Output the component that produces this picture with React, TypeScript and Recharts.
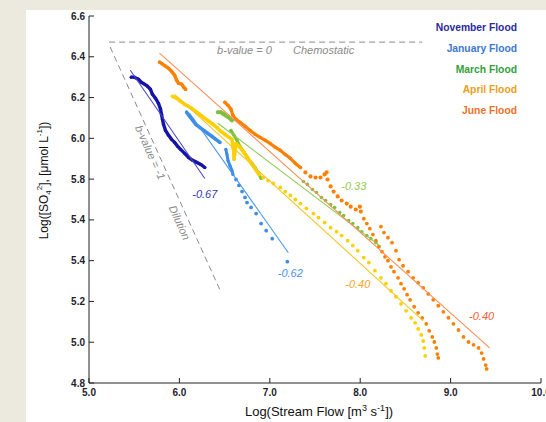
import React from 'react';
import { ScatterChart, Scatter, XAxis, YAxis, ReferenceLine, Legend } from 'recharts';

// ---------- categories / labels ----------
const floodNames = ['November Flood', 'January Flood', 'March Flood', 'April Flood', 'June Flood'];
const xTicks = [5, 6, 7, 8, 9, 10];
const yTicks = [4.8, 5.0, 5.2, 5.4, 5.6, 5.8, 6.0, 6.2, 6.4, 6.6];
const yTickLabels = ['4.8', '5.0', '5.2', '5.4', '5.4', '5.8', '6.0', '6.2', '6.4', '6.6'];

// ---------- November ----------
const novTraceFlow = [5.468, 5.501, 5.546, 5.579, 5.613, 5.646, 5.679, 5.702, 5.735, 5.768, 5.791, 5.802, 5.813, 5.824, 5.846, 5.88, 5.913, 5.947, 5.98, 6.013, 6.058, 6.102, 6.147, 6.192, 6.236, 6.281];
const novTraceSO4 = [6.3, 6.3, 6.29, 6.275, 6.266, 6.256, 6.241, 6.216, 6.197, 6.172, 6.143, 6.118, 6.093, 6.069, 6.039, 6.015, 5.995, 5.98, 5.961, 5.946, 5.926, 5.906, 5.892, 5.882, 5.872, 5.857];
const novFitFlow = [5.457, 6.281];
const novFitSO4 = [6.334, 5.803];

// ---------- January ----------
const janTrace1Flow = [6.08, 6.114, 6.147, 6.18, 6.225, 6.269, 6.314, 6.359, 6.403, 6.448];
const janTrace1SO4 = [6.128, 6.108, 6.089, 6.069, 6.054, 6.039, 6.024, 6.01, 5.995, 5.98];
const janTrace2Flow = [6.514, 6.526, 6.537, 6.559, 6.581, 6.592];
const janTrace2SO4 = [5.946, 5.921, 5.892, 5.867, 5.843, 5.823];
const janDotsFlow = [6.626, 6.659, 6.693, 6.726, 6.748, 6.793, 6.849, 6.904, 6.96, 7.027, 7.194];
const janDotsSO4 = [5.798, 5.769, 5.739, 5.71, 5.685, 5.661, 5.631, 5.582, 5.547, 5.508, 5.395];
const janFitFlow = [6.114, 7.205];
const janFitSO4 = [6.123, 5.439];

// ---------- March ----------
const marTrace1Flow = [6.425, 6.459, 6.492, 6.526, 6.559, 6.581];
const marTrace1SO4 = [6.128, 6.128, 6.118, 6.108, 6.098, 6.088];
const marTrace2Flow = [6.57, 6.604, 6.637, 6.67, 6.715, 6.759, 6.804, 6.837, 6.871, 6.904];
const marTrace2SO4 = [6.039, 6.015, 5.99, 5.961, 5.931, 5.902, 5.877, 5.857, 5.833, 5.803];
const marDotsFlow = [7.372, 7.416, 7.472, 7.517, 7.572, 7.617, 7.673, 7.717, 7.773, 7.817, 7.873, 7.918, 7.973, 8.018, 8.073, 8.118, 8.174, 8.207];
const marDotsSO4 = [5.788, 5.774, 5.749, 5.734, 5.71, 5.695, 5.675, 5.661, 5.636, 5.621, 5.597, 5.582, 5.562, 5.542, 5.523, 5.508, 5.488, 5.469];
const marFitFlow = [6.425, 8.229];
const marFitSO4 = [6.074, 5.469];

// ---------- April ----------
const aprTraceFlow = [5.924, 5.969, 6.013, 6.058, 6.102, 6.147, 6.192, 6.236, 6.281, 6.325, 6.37, 6.414, 6.459, 6.503, 6.548, 6.581, 6.592, 6.604, 6.604, 6.626, 6.67, 6.715, 6.759, 6.804, 6.849, 6.882];
const aprTraceSO4 = [6.206, 6.197, 6.182, 6.167, 6.157, 6.143, 6.128, 6.113, 6.098, 6.084, 6.069, 6.054, 6.034, 6.02, 6.005, 5.995, 5.961, 5.926, 5.897, 5.975, 5.956, 5.931, 5.902, 5.872, 5.843, 5.823];
const aprDotsFlow = [6.927, 6.982, 7.038, 7.116, 7.171, 7.227, 7.283, 7.339, 7.405, 7.483, 7.539, 7.606, 7.673, 7.739, 7.795, 7.862, 7.918, 7.973, 8.04, 8.096, 8.163, 8.229, 8.285, 8.341, 8.396, 8.452, 8.508, 8.563, 8.608, 8.641, 8.675, 8.697, 8.708, 8.719];
const aprDotsSO4 = [5.808, 5.793, 5.779, 5.759, 5.739, 5.72, 5.7, 5.68, 5.656, 5.631, 5.611, 5.587, 5.562, 5.542, 5.523, 5.498, 5.474, 5.449, 5.415, 5.39, 5.351, 5.316, 5.287, 5.252, 5.223, 5.188, 5.154, 5.119, 5.095, 5.065, 5.036, 5.006, 4.972, 4.933];
const aprFitFlow = [5.947, 8.697];
const aprFitSO4 = [6.216, 5.105];

// ---------- June ----------
const junTrace1Flow = [5.78, 5.813, 5.846, 5.88, 5.913, 5.947, 5.969, 5.991, 6.025, 6.047, 6.069];
const junTrace1SO4 = [6.374, 6.364, 6.354, 6.344, 6.329, 6.31, 6.285, 6.27, 6.266, 6.251, 6.241];
const junTrace2Flow = [6.503, 6.537, 6.57, 6.592, 6.626, 6.67, 6.726, 6.782, 6.837, 6.893, 6.949, 7.004, 7.06, 7.116, 7.171, 7.227, 7.283, 7.339];
const junTrace2SO4 = [6.177, 6.162, 6.143, 6.113, 6.093, 6.079, 6.059, 6.039, 6.02, 6.005, 5.99, 5.975, 5.956, 5.941, 5.921, 5.902, 5.877, 5.857];
const junDots1Flow = [7.394, 7.45, 7.506, 7.561, 7.606, 7.628, 7.639, 7.673, 7.706, 7.751, 7.795, 7.851, 7.895, 7.951, 7.996, 8.007];
const junDots1SO4 = [5.833, 5.813, 5.808, 5.808, 5.823, 5.833, 5.798, 5.764, 5.739, 5.715, 5.695, 5.68, 5.665, 5.651, 5.665, 5.641];
const junDotsAFlow = [8.04, 8.073, 8.107, 8.14, 8.174, 8.207, 8.241, 8.274, 8.307, 8.341, 8.374, 8.419, 8.452, 8.486, 8.519, 8.552, 8.597, 8.641, 8.686, 8.731, 8.764, 8.797, 8.82, 8.842, 8.853, 8.864];
const junDotsASO4 = [5.606, 5.582, 5.557, 5.528, 5.498, 5.469, 5.444, 5.419, 5.4, 5.37, 5.346, 5.316, 5.287, 5.262, 5.233, 5.208, 5.174, 5.144, 5.119, 5.09, 5.056, 5.026, 5.001, 4.972, 4.942, 4.923];
const junDotsBFlow = [8.229, 8.263, 8.307, 8.352, 8.396, 8.43, 8.474, 8.53, 8.586, 8.641, 8.697, 8.753, 8.808, 8.864, 8.92, 8.976, 9.031, 9.087, 9.143, 9.198, 9.254, 9.31, 9.343, 9.365, 9.388, 9.399];
const junDotsBSO4 = [5.567, 5.538, 5.513, 5.488, 5.449, 5.405, 5.375, 5.346, 5.316, 5.292, 5.267, 5.237, 5.208, 5.179, 5.149, 5.12, 5.09, 5.06, 5.026, 5.001, 4.987, 4.972, 4.947, 4.918, 4.888, 4.869];
const junFitFlow = [5.78, 9.432];
const junFitSO4 = [6.418, 4.972];

// ---------- reference lines (b-values) ----------
const chemostaticFlow = [5.223, 8.686];
const chemostaticSO4 = [6.472, 6.472];
const dilutionFlow = [5.234, 6.448];
const dilutionSO4 = [6.448, 5.257];

// ---------- annotations ----------
const slopeTexts = ['-0.67', '-0.62', '-0.33', '-0.40', '-0.40'];
const slopeFlow = [6.281, 7.227, 7.929, 7.973, 9.343];
const slopeSO4 = [5.729, 5.341, 5.764, 5.287, 5.129];
const noteTexts = ['b-value = 0', 'Chemostatic', 'b-value = -1', 'Dilution'];
const noteFlow = [6.72, 7.595, 5.679, 6.002];
const noteSO4 = [6.433, 6.433, 5.931, 5.587];
const noteAngle = [0, 0, 65.8, 65.8];

// ---------- styles ----------
const dataColors = ['#1414A8', '#3D8EE6', '#80C040', '#FFD000', '#FF8000'];
const fitColors = ['#4A4AC8', '#4A96EA', '#8CC850', '#F6C626', '#F7905A'];
const slopeColors = ['#3535C0', '#4A90E8', '#96C850', '#F5A623', '#F06030'];
const legendColors = ['#2A2A9A', '#3C78D0', '#33A03A', '#E8A020', '#F07028'];
const FONT = '"Liberation Sans", Arial, Helvetica, sans-serif';

const pts = (xs: number[], ys: number[]) => xs.map((x, i) => ({ x, y: ys[i] }));

const dot = (color: string, r: number) => (p: any) =>
  p.cx == null ? <g /> : <circle cx={p.cx} cy={p.cy} r={r} fill={color} />;
const noShape = () => <g />;

const slopeData = slopeTexts.map((t, i) => ({ x: slopeFlow[i], y: slopeSO4[i], text: t, color: slopeColors[i] }));
const noteData = noteTexts.map((t, i) => ({ x: noteFlow[i], y: noteSO4[i], text: t, angle: noteAngle[i] }));

const textShape = (size: number) => (p: any) => {
  if (p.cx == null) return <g />;
  const d = p.payload || {};
  const a = d.angle || 0;
  return (
    <text
      x={p.cx}
      y={p.cy}
      textAnchor="middle"
      dominantBaseline="central"
      fontFamily={FONT}
      fontStyle="italic"
      fontSize={size}
      fill={d.color || '#8a8a8a'}
      transform={a ? `rotate(${a} ${p.cx} ${p.cy})` : undefined}
    >
      {d.text}
    </text>
  );
};

const renderLegend = () => (
  <div style={{ textAlign: 'right', fontFamily: FONT, fontSize: 10.3, fontWeight: 'bold', lineHeight: '20.8px', whiteSpace: 'nowrap' }}>
    {floodNames.map((n, i) => (
      <div key={n} style={{ color: legendColors[i] }}>{n}</div>
    ))}
  </div>
);

const yLabel = (props: any) => {
  const vb = props.viewBox || { x: 0, y: 0, width: 0, height: 0 };
  const cx = vb.x + 15;
  const cy = vb.y + vb.height / 2 - 19;
  return (
    <text x={cx} y={cy} transform={`rotate(-90 ${cx} ${cy})`} textAnchor="middle" dominantBaseline="central" fontFamily={FONT} fontSize={12} fill="#111">
      Log([SO<tspan baselineShift="sub" fontSize={8}>4</tspan><tspan baselineShift="super" fontSize={8}>2</tspan>], [μmol L<tspan baselineShift="super" fontSize={8}>-1</tspan>])
    </text>
  );
};

const xLabel = (props: any) => {
  const vb = props.viewBox || { x: 0, y: 0, width: 0, height: 0 };
  const cx = vb.x + vb.width / 2 + 4;
  const cy = vb.y + 33;
  return (
    <text x={cx} y={cy} textAnchor="middle" fontFamily={FONT} fontSize={13} fill="#111">
      Log(Stream Flow [m<tspan baselineShift="super" fontSize={9}>3</tspan> s<tspan baselineShift="super" fontSize={9}>-1</tspan>])
    </text>
  );
};

const yFmt = (v: number) => {
  const i = yTicks.findIndex((t) => Math.abs(t - v) < 1e-6);
  return i >= 0 ? yTickLabels[i] : '';
};

const tickStyle = { fontSize: 10, fontWeight: 'bold', fill: '#1e1e2e', fontFamily: FONT } as any;
const axisStroke = { stroke: '#222', strokeWidth: 1 };

export default function App() {
  const thick = (c: string, w: number) => ({ stroke: c, strokeWidth: w, strokeLinecap: 'round', strokeLinejoin: 'round' } as any);
  return (
    <div style={{ position: 'absolute', left: 0, top: 0, width: 546, height: 422, background: '#ECE9DF', overflow: 'hidden' }}>
      <div style={{ position: 'absolute', left: 26, top: 10, width: 520, height: 412, background: '#ffffff' }} />
      <div style={{ position: 'absolute', left: 0, top: 0 }}>
        <ScatterChart width={546} height={422} margin={{ top: 16, right: 5, bottom: 9, left: 29 }}>
          <XAxis
            type="number"
            dataKey="x"
            domain={[5, 10]}
            ticks={xTicks}
            interval={0}
            allowDataOverflow
            tickFormatter={(v: number) => v.toFixed(1)}
            tick={tickStyle}
            tickSize={-5}
            tickMargin={11}
            axisLine={axisStroke}
            tickLine={axisStroke}
            height={30}
            label={xLabel}
          />
          <YAxis
            type="number"
            dataKey="y"
            domain={[4.8, 6.6]}
            ticks={yTicks}
            interval={0}
            allowDataOverflow
            tickFormatter={yFmt}
            tick={tickStyle}
            tickSize={-5}
            tickMargin={9}
            axisLine={axisStroke}
            tickLine={axisStroke}
            width={60}
            label={yLabel}
          />
          <XAxis xAxisId="top" orientation="top" type="number" domain={[5, 10]} ticks={xTicks} interval={0} allowDataOverflow tick={false} tickSize={-5} axisLine={axisStroke} tickLine={axisStroke} height={0} />
          <YAxis yAxisId="right" orientation="right" type="number" domain={[4.8, 6.6]} ticks={yTicks} interval={0} allowDataOverflow tick={false} tickSize={-5} axisLine={axisStroke} tickLine={axisStroke} width={0} />

          <ReferenceLine segment={pts(chemostaticFlow, chemostaticSO4) as any} stroke="#8a8a8a" strokeWidth={1} strokeDasharray="6 4" />
          <ReferenceLine segment={pts(dilutionFlow, dilutionSO4) as any} stroke="#8a8a8a" strokeWidth={1} strokeDasharray="6 4" />

          {/* November */}
          <Scatter data={pts(novTraceFlow, novTraceSO4)} line={thick(dataColors[0], 3.4)} shape={dot(dataColors[0], 1.6)} isAnimationActive={false} />
          {/* January */}
          <Scatter data={pts(janTrace1Flow, janTrace1SO4)} line={thick(dataColors[1], 3.6)} shape={dot(dataColors[1], 1.6)} isAnimationActive={false} />
          <Scatter data={pts(janTrace2Flow, janTrace2SO4)} line={thick(dataColors[1], 3)} shape={dot(dataColors[1], 1.5)} isAnimationActive={false} />
          <Scatter data={pts(janDotsFlow, janDotsSO4)} shape={dot(dataColors[1], 1.9)} isAnimationActive={false} />
          {/* March */}
          <Scatter data={pts(marTrace1Flow, marTrace1SO4)} line={thick(dataColors[2], 4)} shape={dot(dataColors[2], 1.8)} isAnimationActive={false} />
          <Scatter data={pts(marTrace2Flow, marTrace2SO4)} line={thick(dataColors[2], 3)} shape={dot(dataColors[2], 1.6)} isAnimationActive={false} />
          <Scatter data={pts(marDotsFlow, marDotsSO4)} shape={dot(dataColors[2], 1.8)} isAnimationActive={false} />
          {/* April */}
          <Scatter data={pts(aprTraceFlow, aprTraceSO4)} line={thick(dataColors[3], 3.6)} shape={dot(dataColors[3], 1.6)} isAnimationActive={false} />
          <Scatter data={pts(aprDotsFlow, aprDotsSO4)} shape={dot(dataColors[3], 1.9)} isAnimationActive={false} />
          {/* June */}
          <Scatter data={pts(junTrace1Flow, junTrace1SO4)} line={thick(dataColors[4], 3.4)} shape={dot(dataColors[4], 1.7)} isAnimationActive={false} />
          <Scatter data={pts(junTrace2Flow, junTrace2SO4)} line={thick(dataColors[4], 3.2)} shape={dot(dataColors[4], 1.8)} isAnimationActive={false} />
          <Scatter data={pts(junDots1Flow, junDots1SO4)} shape={dot(dataColors[4], 2.1)} isAnimationActive={false} />
          <Scatter data={pts(junDotsAFlow, junDotsASO4)} shape={dot(dataColors[4], 1.9)} isAnimationActive={false} />
          <Scatter data={pts(junDotsBFlow, junDotsBSO4)} shape={dot(dataColors[4], 1.9)} isAnimationActive={false} />

          {/* fit lines */}
          <Scatter data={pts(novFitFlow, novFitSO4)} line={{ stroke: fitColors[0], strokeWidth: 1.1 }} shape={noShape} isAnimationActive={false} />
          <Scatter data={pts(janFitFlow, janFitSO4)} line={{ stroke: fitColors[1], strokeWidth: 1.1 }} shape={noShape} isAnimationActive={false} />
          <Scatter data={pts(marFitFlow, marFitSO4)} line={{ stroke: fitColors[2], strokeWidth: 1.1 }} shape={noShape} isAnimationActive={false} />
          <Scatter data={pts(aprFitFlow, aprFitSO4)} line={{ stroke: fitColors[3], strokeWidth: 1.1 }} shape={noShape} isAnimationActive={false} />
          <Scatter data={pts(junFitFlow, junFitSO4)} line={{ stroke: fitColors[4], strokeWidth: 1.1 }} shape={noShape} isAnimationActive={false} />

          {/* annotations */}
          <Scatter data={slopeData} shape={textShape(11)} isAnimationActive={false} />
          <Scatter data={noteData} shape={textShape(11)} isAnimationActive={false} />

          <Legend
            layout="horizontal"
            align="center"
            verticalAlign="middle"
            content={renderLegend}
            wrapperStyle={{ top: 18, left: 393, width: 124, height: 110 }}
          />
        </ScatterChart>
      </div>
    </div>
  );
}
